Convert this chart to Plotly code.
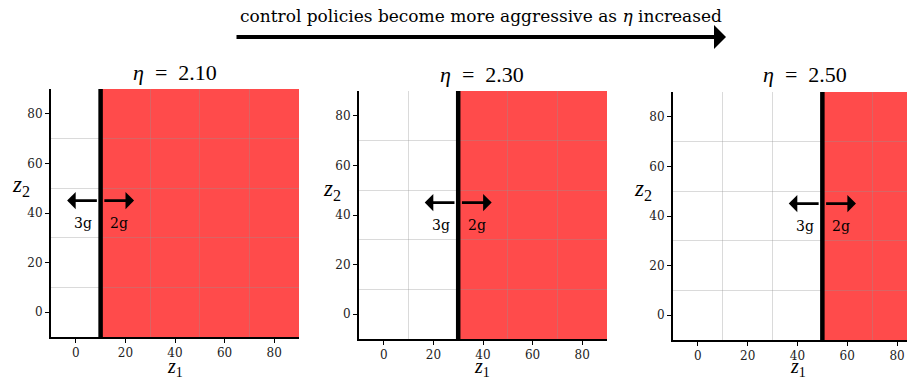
import plotly.graph_objects as go

# ---- data ----
etas = [2.10, 2.30, 2.50]
thresholds = [10, 30, 50]          # z1 boundary between 3g (left) and 2g (right)
x_tick_vals = [0, 20, 40, 60, 80]
y_tick_vals = [0, 20, 40, 60, 80]
grid_vals = [10, 30, 50, 70]
z_min, z_max = -10, 90
x_max_per_panel = [90, 90, 84]
arrow_y = 45
label_y = 36
arrow_len = 13.5
label_off = [-7, 7.5]
left_label, right_label = "3g", "2g"
top_text = "control policies become more aggressive as <i>η</i> increased"

W, H = 907, 381
FONT = "Liberation Serif"
TFONT = "DejaVu Serif"
RED = "#FF4B4B"


def px(x):
    return x / W


def py(y):
    return 1 - y / H


# panel pixel boxes: left, right, top, bottom
boxes = [(51, 299, 89, 337), (359, 607, 91, 339), (673, 907, 92, 340)]
title_pos = [(175, 73), (482, 74), (805, 74)]
z2_pos = [(21, 186), (332, 190), (643, 190)]
z1_pos = [(175, 367), (482, 367), (798, 367)]

fig = go.Figure()
annotations = []
shapes = []


def paper_text(x, y, text, size, family=FONT):
    return dict(x=px(x), y=py(y), xref="paper", yref="paper", text=text, showarrow=False,
                xanchor="center", yanchor="middle",
                font=dict(family=family, size=size, color="black"))


for i, (eta, t) in enumerate(zip(etas, thresholds)):
    n = "" if i == 0 else str(i + 1)
    xa, ya = "x" + n, "y" + n
    l, r, tp, bt = boxes[i]
    axis_common = dict(
        showline=True, linecolor="black", linewidth=2, mirror=False,
        ticks="outside", ticklen=4, tickwidth=1.3, tickcolor="black",
        showgrid=False, zeroline=False,
        tickfont=dict(family=TFONT, size=12, color="#222"),
        minor=dict(tickvals=grid_vals, showgrid=True,
                   gridcolor="rgba(150,150,150,0.35)", gridwidth=1, ticklen=0),
        automargin=False, fixedrange=True,
    )
    fig.update_layout(**{
        "xaxis" + n: dict(domain=[px(l), px(r)], range=[z_min, x_max_per_panel[i]],
                          tickvals=x_tick_vals, anchor=ya, **axis_common),
        "yaxis" + n: dict(domain=[py(bt), py(tp)], range=[z_min, z_max],
                          tickvals=y_tick_vals, anchor=xa, **axis_common),
    })
    # red region (2g), drawn below the grid
    shapes.append(dict(type="rect", xref=xa, yref=ya, x0=t, x1=z_max, y0=z_min, y1=z_max,
                       fillcolor=RED, line=dict(width=0), layer="below"))
    # decision boundary
    fig.add_trace(go.Scatter(x=[t, t], y=[z_min, z_max], mode="lines",
                             line=dict(color="black", width=4.5), xaxis=xa, yaxis=ya,
                             showlegend=False, hoverinfo="skip", cliponaxis=True))
    # arrows
    for sgn in (-1, 1):
        annotations.append(dict(x=t + sgn * arrow_len, y=arrow_y, ax=t + sgn * 0.9, ay=arrow_y,
                                xref=xa, yref=ya, axref=xa, ayref=ya, text="",
                                showarrow=True, arrowhead=1, arrowsize=1.1, arrowwidth=2.6,
                                arrowcolor="black"))
    annotations.append(dict(x=t + label_off[0], y=label_y, xref=xa, yref=ya, text=left_label,
                            showarrow=False, xanchor="center", yanchor="middle",
                            font=dict(family=TFONT, size=14, color="black")))
    annotations.append(dict(x=t + label_off[1], y=label_y, xref=xa, yref=ya, text=right_label,
                            showarrow=False, xanchor="center", yanchor="middle",
                            font=dict(family=TFONT, size=14, color="black")))
    # panel title
    annotations.append(paper_text(*title_pos[i], f"<i>η</i>&nbsp;&nbsp;=&nbsp;&nbsp;{eta:.2f}", 22))
    # axis titles
    annotations.append(paper_text(*z2_pos[i], "<i>z</i><sub>2</sub>", 23))
    annotations.append(paper_text(*z1_pos[i], "<i>z</i><sub>1</sub>", 20))

# top caption and arrow
annotations.append(paper_text(481, 16, top_text, 17, TFONT))
annotations.append(dict(x=px(726), y=py(37), xref="paper", yref="paper",
                        ax=-(726 - 235), ay=0, text="", showarrow=True,
                        arrowhead=1, arrowsize=1, arrowwidth=4, arrowcolor="black"))

fig.update_layout(
    width=W, height=H, margin=dict(l=0, r=0, t=0, b=0),
    paper_bgcolor="white", plot_bgcolor="white",
    annotations=annotations, shapes=shapes, showlegend=False,
)

fig.write_html("out.html", config={"displayModeBar": False},
               post_script="document.body.style.margin='0px';")
